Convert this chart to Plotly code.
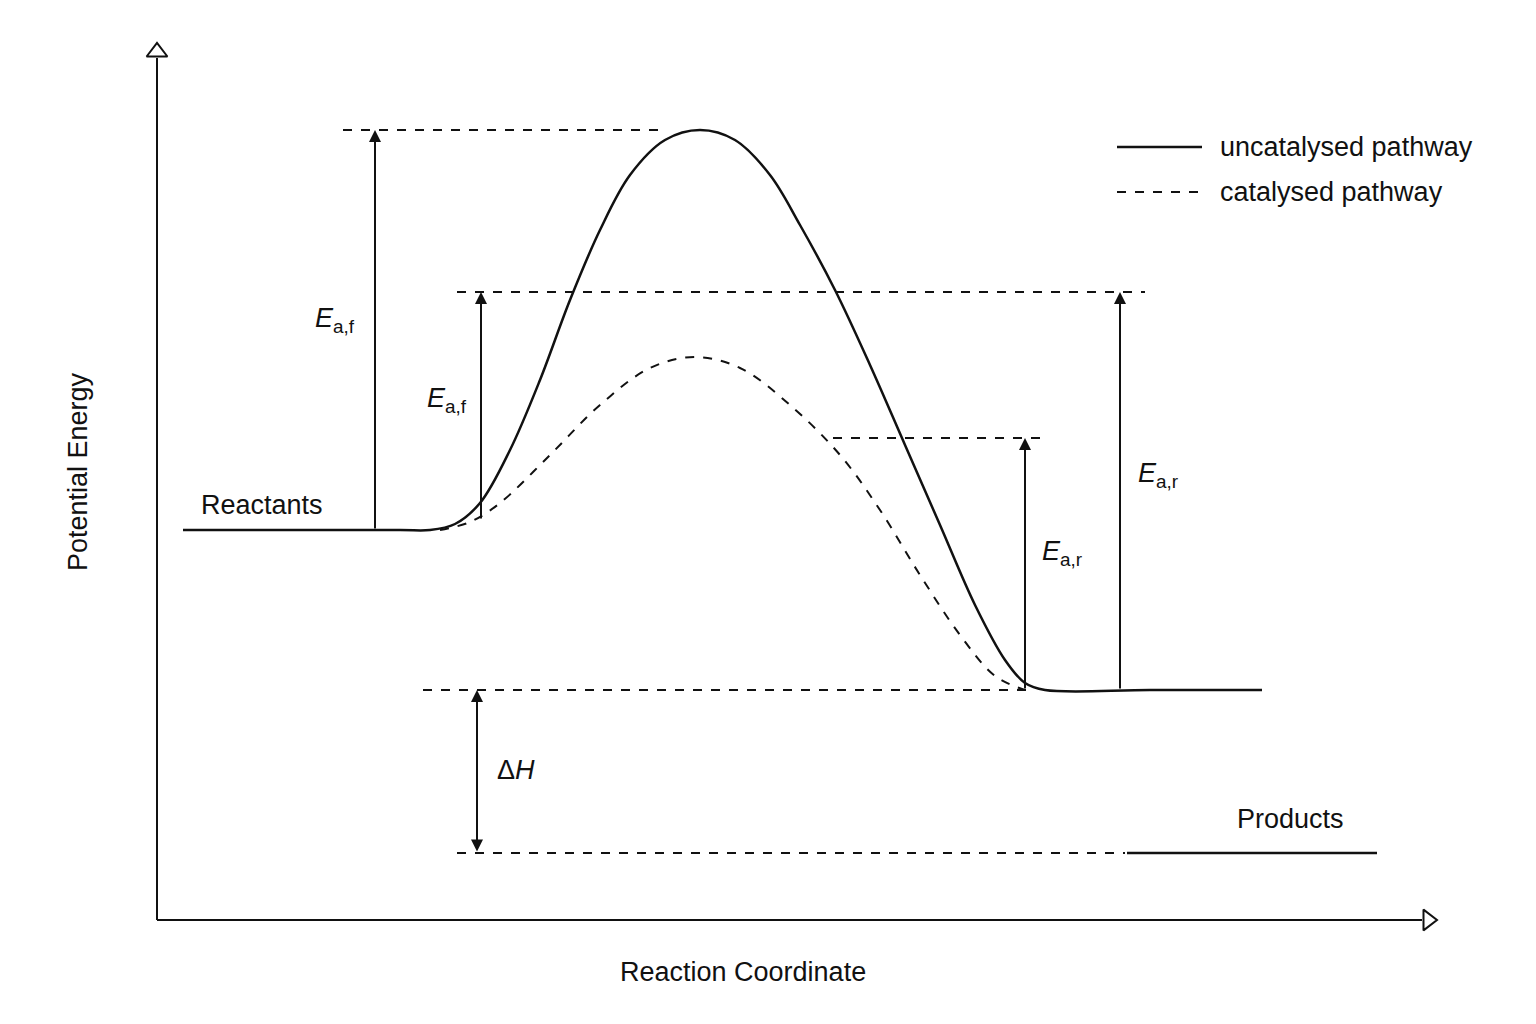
import plotly.graph_objects as go

# curve points (x = reaction coordinate, y = energy level in picture units, smaller = higher)
uncat_x = [183, 400, 430, 455, 480, 510, 540, 570, 600, 630, 665, 700, 735, 770, 800, 835, 870, 905, 940, 975, 1005, 1025, 1045, 1150, 1262]
uncat_y = [530, 530, 530, 524, 503, 450, 380, 300, 230, 175, 140, 130, 140, 175, 225, 290, 365, 445, 525, 605, 660, 683, 690, 690, 690]
cat_x = [440, 470, 500, 550, 600, 650, 695, 740, 790, 840, 880, 920, 960, 995, 1025]
cat_y = [530, 522, 503, 455, 405, 368, 357, 368, 405, 455, 510, 575, 635, 676, 690]

# dashed reference levels: (y, x0, x1)
levels = [(130, 343, 665), (292, 457, 1145), (438, 833, 1042), (690, 423, 1030), (853, 457, 1125)]
# arrows: (x, y_from, y_to)
arrows = [(375, 530, 130), (481, 520, 292), (1025, 690, 438), (1120, 690, 292)]
dh_x, dh_top, dh_bot = 477, 690, 853

fig = go.Figure()
ink = '#111111'
fnt = dict(family='Liberation Sans, Arial', size=27, color=ink)

fig.add_trace(go.Scatter(x=uncat_x, y=uncat_y, mode='lines', line=dict(color=ink, width=2.5, shape='spline', smoothing=1), hoverinfo='skip'))
fig.add_trace(go.Scatter(x=cat_x, y=cat_y, mode='lines', line=dict(color=ink, width=2, dash='dash', shape='spline', smoothing=1), hoverinfo='skip'))

for y, x0, x1 in levels:
    fig.add_shape(type='line', x0=x0, x1=x1, y0=y, y1=y, line=dict(color=ink, width=2, dash='dash'))
# products line
fig.add_shape(type='line', x0=1127, x1=1377, y0=853, y1=853, line=dict(color=ink, width=2.5))
# axes
fig.add_shape(type='line', x0=157, x1=157, y0=920, y1=58, line=dict(color=ink, width=2))
fig.add_shape(type='line', x0=157, x1=1422, y0=920, y1=920, line=dict(color=ink, width=2))
fig.add_trace(go.Scatter(x=[157], y=[52], mode='markers', marker=dict(symbol='triangle-up-open', size=18, color=ink, line=dict(width=2)), hoverinfo='skip'))
fig.add_trace(go.Scatter(x=[1428], y=[920], mode='markers', marker=dict(symbol='triangle-right-open', size=18, color=ink, line=dict(width=2)), hoverinfo='skip'))

for x, y0, y1 in arrows:
    fig.add_annotation(x=x, y=y1, ax=x, ay=y0, xref='x', yref='y', axref='x', ayref='y',
                       showarrow=True, arrowhead=2, arrowsize=1.2, arrowwidth=2, arrowcolor=ink, text='')
fig.add_annotation(x=dh_x, y=dh_top, ax=dh_x, ay=dh_bot, xref='x', yref='y', axref='x', ayref='y',
                   showarrow=True, arrowhead=2, arrowside='end+start', arrowsize=1.2, arrowwidth=2, arrowcolor=ink, text='')

labels = [(335, 320, '<i>E</i><sub>a,f</sub>'), (447, 400, '<i>E</i><sub>a,f</sub>'),
          (1062, 553, '<i>E</i><sub>a,r</sub>'), (1158, 475, '<i>E</i><sub>a,r</sub>'),
          (516, 770, 'Δ<i>H</i>'), (262, 505, 'Reactants'), (1290, 819, 'Products'),
          (743, 972, 'Reaction Coordinate')]
for x, y, t in labels:
    fig.add_annotation(x=x, y=y, text=t, showarrow=False, font=fnt)
fig.add_annotation(x=78, y=472, text='Potential Energy', textangle=-90, showarrow=False, font=fnt)

# legend
fig.add_shape(type='line', x0=1117, x1=1202, y0=147, y1=147, line=dict(color=ink, width=2.5))
fig.add_shape(type='line', x0=1117, x1=1202, y0=192, y1=192, line=dict(color=ink, width=2, dash='dash'))
fig.add_annotation(x=1218, y=147, text='uncatalysed pathway', xanchor='left', showarrow=False, font=fnt)
fig.add_annotation(x=1218, y=192, text='catalysed pathway', xanchor='left', showarrow=False, font=fnt)

# ranges offset by the 8px page margin so marks land where they sit in the reference
fig.update_layout(width=1536, height=1024, margin=dict(l=0, r=0, t=0, b=0), showlegend=False,
                  plot_bgcolor='white', paper_bgcolor='white',
                  xaxis=dict(range=[8, 1544], visible=False),
                  yaxis=dict(range=[1032, 8], visible=False))
fig.write_html("out.html")
